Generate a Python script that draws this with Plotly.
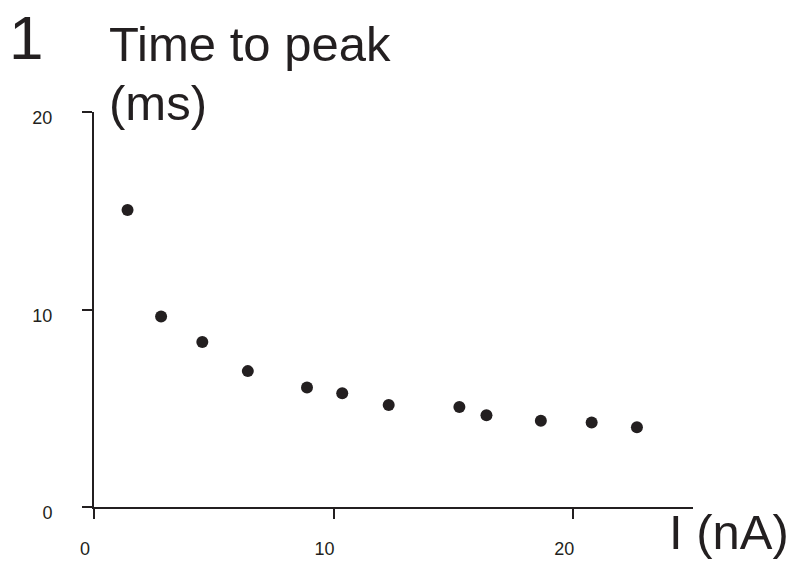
import plotly.graph_objects as go

# Data
current_nA = [1.40, 2.80, 4.52, 6.42, 8.89, 10.36, 12.30, 15.25, 16.38, 18.65, 20.77, 22.66]
time_to_peak_ms = [15.04, 9.65, 8.36, 6.88, 6.05, 5.76, 5.17, 5.06, 4.65, 4.37, 4.28, 4.04]

x_tick_vals = [0, 10, 20]
x_tick_text = ["0", "10", "20"]
y_tick_vals = [0, 10, 20]
y_tick_text = ["0", "10", "20"]

INK = "#231f20"
FONT = "Liberation Sans, Arial, Helvetica, sans-serif"

W, H = 800, 571
L, R, T, B = 94, 107, 112, 57
PW, PH = W - L - R, H - T - B


def px_to_paper(px, py):
    return (px - L) / PW, (H - B - py) / PH


fig = go.Figure()
fig.add_trace(go.Scatter(
    x=current_nA, y=time_to_peak_ms, mode="markers",
    marker=dict(color=INK, size=12, line=dict(width=0)),
    showlegend=False, hoverinfo="x+y",
))

fig.update_xaxes(
    range=[0, 25], showgrid=False, zeroline=False,
    showline=True, linecolor=INK, linewidth=2,
    ticks="outside", ticklen=10, tickwidth=2, tickcolor=INK,
    tickvals=x_tick_vals, ticktext=x_tick_text,
    tickfont=dict(family=FONT, size=18, color=INK),
    ticklabelstandoff=14, ticklabelshift=-9,
)
fig.update_yaxes(
    range=[0, 20], showgrid=False, zeroline=False,
    showline=True, linecolor=INK, linewidth=2,
    ticks="outside", ticklen=10, tickwidth=2, tickcolor=INK,
    tickvals=y_tick_vals, ticktext=y_tick_text,
    tickfont=dict(family=FONT, size=18, color=INK),
    ticklabelstandoff=26, ticklabelshift=6,
)


def label(text, px, py, size, yanchor="middle"):
    x, y = px_to_paper(px, py)
    fig.add_annotation(
        text=text, x=x, y=y, xref="paper", yref="paper",
        xanchor="left", yanchor=yanchor, showarrow=False,
        font=dict(family=FONT, size=size, color=INK), borderpad=0,
    )


label("1", 8, 0, 62, yanchor="top")
label("Time to peak", 108, 43, 49)
label("(ms)", 108, 103, 49)
label("I (nA)", 668, 539, 49)

fig.update_layout(
    width=W, height=H,
    margin=dict(l=L, r=R, t=T, b=B),
    paper_bgcolor="white", plot_bgcolor="white",
    font=dict(family=FONT, color=INK),
)

fig.write_html(
    "out.html",
    config={"displayModeBar": False},
    post_script="document.body.style.margin='0';",
)
